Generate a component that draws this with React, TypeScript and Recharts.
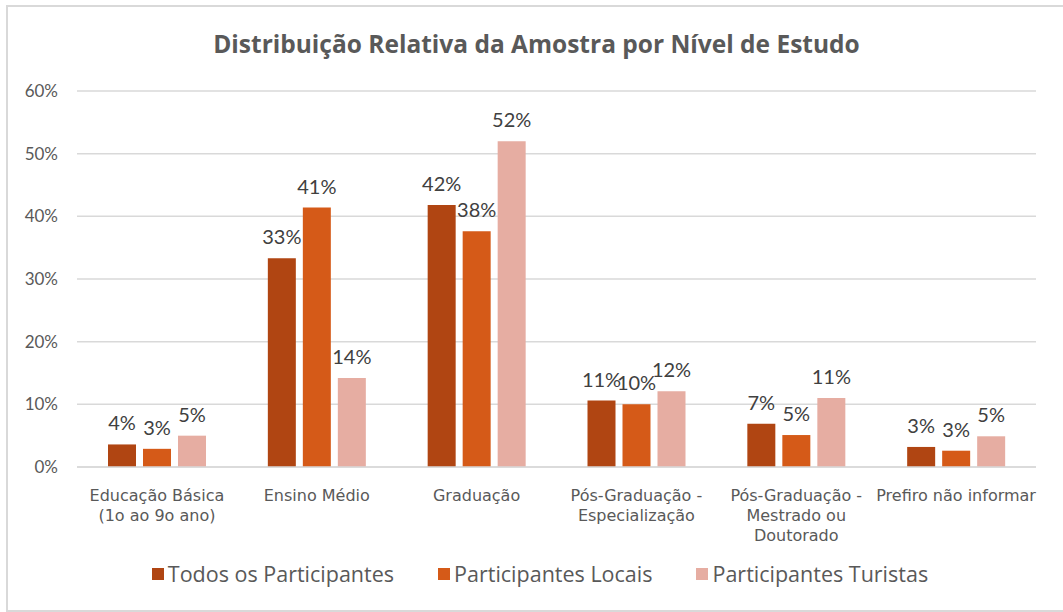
import { BarChart, Bar, XAxis, YAxis, CartesianGrid, Legend, LabelList } from 'recharts';

const categories = [
  'Educação Básica\n(1o ao 9o ano)',
  'Ensino Médio',
  'Graduação',
  'Pós-Graduação -\nEspecialização',
  'Pós-Graduação -\nMestrado ou\nDoutorado',
  'Prefiro não informar',
];
const todos = [3.6, 33.3, 41.8, 10.6, 6.9, 3.2];
const locais = [2.9, 41.4, 37.6, 10.0, 5.1, 2.6];
const turistas = [5.0, 14.2, 52.0, 12.1, 11.0, 4.9];
const yTicks = [0, 10, 20, 30, 40, 50, 60];

const SERIES = [
  { key: 'todos', name: 'Todos os Participantes', color: '#B04512' },
  { key: 'locais', name: 'Participantes Locais', color: '#D55A18' },
  { key: 'turistas', name: 'Participantes Turistas', color: '#E6ADA2' },
];

const NUM_FONT = 'Lato, "DejaVu Sans", sans-serif';
const FONT = '"Open Sans", "DejaVu Sans", sans-serif';
const TICK_FONT = '"DejaVu Sans", sans-serif';
const TEXT = '#595959';

const data = categories.map((c, i) => ({
  category: c,
  todos: todos[i],
  locais: locais[i],
  turistas: turistas[i],
}));

function CategoryTick(props: any) {
  const { x, y, payload } = props;
  const lines = String(payload.value).split('\n');
  return (
    <g>
      {lines.map((line, i) => (
        <text
          key={i}
          x={x}
          y={y + 26 + i * 19.8}
          textAnchor="middle"
          fill={TEXT}
          fontSize={16}
          fontFamily={TICK_FONT}
        >
          {line}
        </text>
      ))}
    </g>
  );
}

function LegendContent(props: any) {
  const items = [...(props.payload || [])].sort(
    (a: any, b: any) =>
      SERIES.findIndex((s) => s.name === a.value) - SERIES.findIndex((s) => s.name === b.value)
  );
  return (
    <div
      style={{
        display: 'flex',
        justifyContent: 'center',
        gap: 44,
        paddingLeft: 24,
        fontFamily: FONT,
        fontSize: 21.5,
        lineHeight: '26px',
        height: 26,
        color: TEXT,
      }}
    >
      {items.map((item: any) => (
        <div key={item.value} style={{ display: 'flex', alignItems: 'center', gap: 4 }}>
          <span style={{ width: 12, height: 12, backgroundColor: item.color, display: 'inline-block' }} />
          <span>{item.value}</span>
        </div>
      ))}
    </div>
  );
}

export default function App() {
  return (
    <div style={{ position: 'absolute', left: 0, top: 0, width: 1063, height: 612, background: '#fff', overflow: 'hidden' }}>
      <div
        style={{
          position: 'absolute',
          left: 6,
          top: 5,
          width: 1070,
          height: 603,
          border: '2px solid #D9D9D9',
        }}
      />
      <div
        style={{
          position: 'absolute',
          left: 0,
          top: 27,
          width: 1073,
          textAlign: 'center',
          fontFamily: FONT,
          fontWeight: 700,
          fontSize: 24.5,
          lineHeight: '34px',
          color: TEXT,
        }}
      >
        Distribuição Relativa da Amostra por Nível de Estudo
      </div>
      <div style={{ position: 'absolute', left: 0, top: 0 }}>
        <BarChart
          width={1063}
          height={612}
          data={data}
          margin={{ top: 91, right: 27, bottom: 25, left: 20 }}
          barSize={28}
          barGap={7}
        >
          <CartesianGrid vertical={false} stroke="#D9D9D9" strokeWidth={1.5} />
          <XAxis
            dataKey="category"
            axisLine={{ stroke: '#D9D9D9', strokeWidth: 1.5 }}
            tickLine={false}
            tick={<CategoryTick />}
            interval={0}
            height={94}
          />
          <YAxis
            domain={[0, 60]}
            ticks={yTicks}
            tickFormatter={(v) => `${v}%`}
            axisLine={false}
            tickLine={false}
            tickSize={0}
            tickMargin={19}
            width={57}
            tick={{ fill: TEXT, fontSize: 17, fontFamily: NUM_FONT }}
          />
          <Legend verticalAlign="bottom" content={<LegendContent />} />
          {SERIES.map((s) => (
            <Bar key={s.key} dataKey={s.key} name={s.name} fill={s.color} isAnimationActive={false}>
              <LabelList
                dataKey={s.key}
                position="top"
                offset={14}
                formatter={(v: any) => `${Math.round(Number(v))}%`}
                fill="#404040"
                fontSize={20}
                fontFamily={NUM_FONT}
              />
            </Bar>
          ))}
        </BarChart>
      </div>
    </div>
  );
}
